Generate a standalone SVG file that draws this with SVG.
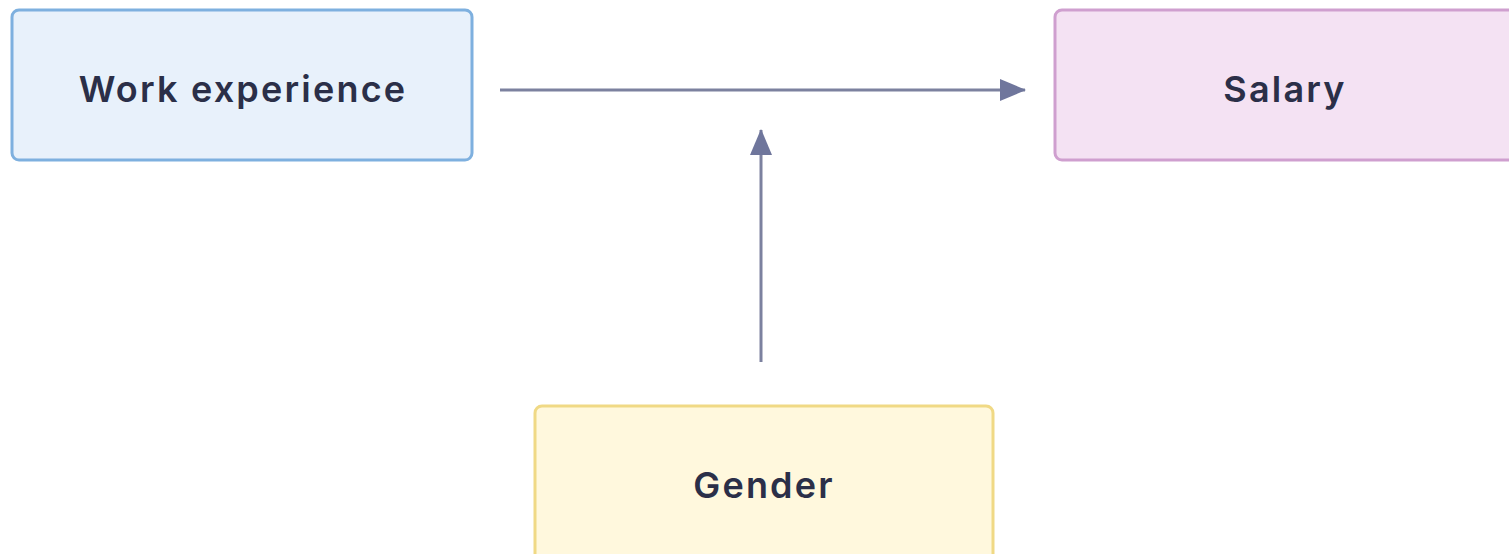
<svg xmlns="http://www.w3.org/2000/svg" width="1509" height="554" viewBox="0 0 1509 554">
<style>
.lbl{font-family:Inter,"Open Sans","Liberation Sans",sans-serif;font-weight:600;font-size:36px;letter-spacing:2.2px;fill:#2b2f48;text-anchor:middle;dominant-baseline:central}
.edge{stroke:#7c819f;stroke-width:3;fill:none}
</style>
<defs>
<marker id="ah" markerWidth="26" markerHeight="26" refX="25" refY="13" orient="auto" markerUnits="userSpaceOnUse" viewBox="0 0 26 26">
<path d="M0,2 L26,13 L0,24 z" fill="#6f769c"/>
</marker>
</defs>
<rect width="1509" height="554" fill="#ffffff"/>
<g id="connectors">
<line class="edge" x1="500" y1="90" x2="1025" y2="90" marker-end="url(#ah)"/>
<line class="edge" x1="761" y1="362" x2="761" y2="130" marker-end="url(#ah)"/>
</g>
<g id="work">
<rect x="12" y="10" width="460" height="150" rx="7" fill="#e8f1fb" stroke="#7eb0df" stroke-width="3"/>
<text class="lbl" x="243" y="89">Work experience</text>
</g>
<g id="salary">
<rect x="1055" y="10" width="470" height="150" rx="7" fill="#f4e2f3" stroke="#cf9fcf" stroke-width="3"/>
<text class="lbl" x="1285" y="89">Salary</text>
</g>
<g id="gender">
<rect x="535" y="406" width="458" height="160" rx="7" fill="#fff8dd" stroke="#f0d985" stroke-width="3"/>
<text class="lbl" x="764" y="485">Gender</text>
</g>
</svg>
